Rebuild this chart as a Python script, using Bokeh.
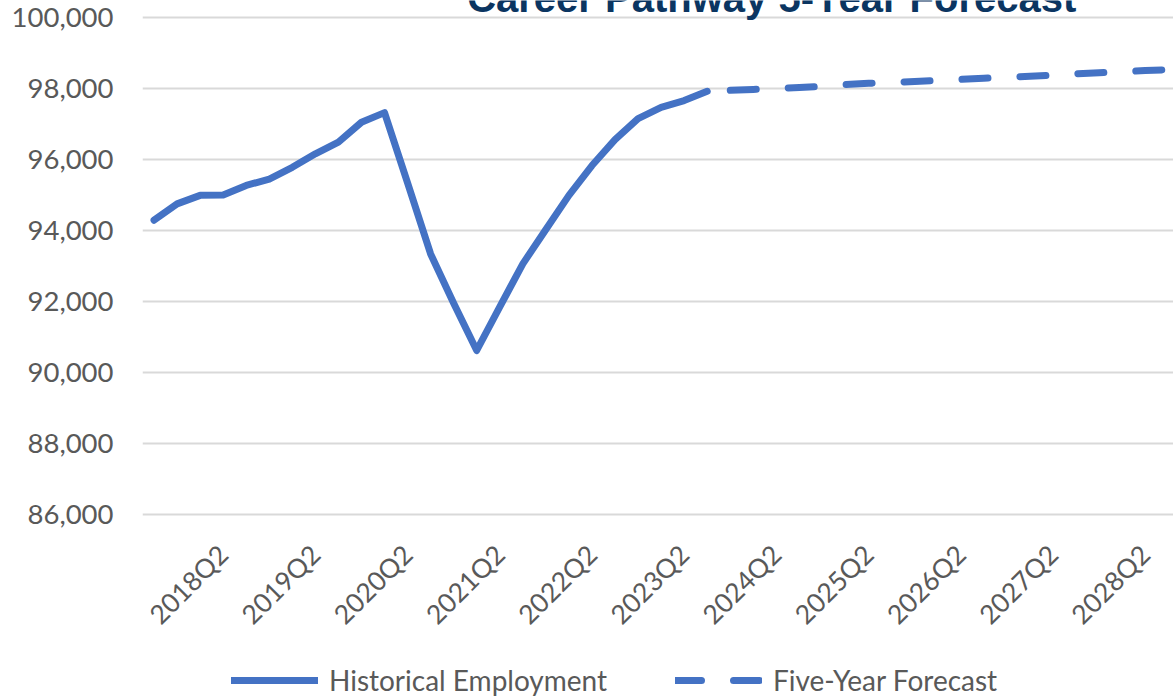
import math
from bokeh.plotting import figure
from bokeh.models import (Range1d, FixedTicker, NumeralTickFormatter, Legend, LegendItem, Label)
from bokeh.embed import file_html
from bokeh.resources import INLINE

# ---------------- data ----------------
quarters = ["2017Q3", "2017Q4",
            "2018Q1", "2018Q2", "2018Q3", "2018Q4",
            "2019Q1", "2019Q2", "2019Q3", "2019Q4",
            "2020Q1", "2020Q2", "2020Q3", "2020Q4",
            "2021Q1", "2021Q2", "2021Q3", "2021Q4",
            "2022Q1", "2022Q2", "2022Q3", "2022Q4",
            "2023Q1", "2023Q2", "2023Q3", "2023Q4",
            "2024Q1", "2024Q2", "2024Q3", "2024Q4",
            "2025Q1", "2025Q2", "2025Q3", "2025Q4",
            "2026Q1", "2026Q2", "2026Q3", "2026Q4",
            "2027Q1", "2027Q2", "2027Q3", "2027Q4",
            "2028Q1", "2028Q2", "2028Q3"]

historical = [94290, 94750, 94990, 95000, 95270, 95450, 95780, 96160, 96490, 97050,
              97320, 95340, 93340, 91950, 90620, 91850, 93060, 94030, 94990, 95830,
              96560, 97150, 97470, 97660, 97920]

forecast = [97950, 97975, 98000, 98030, 98060, 98110, 98145, 98170, 98195, 98225,
            98260, 98290, 98320, 98345, 98375, 98415, 98445, 98475, 98505, 98530]

y_ticks = [86000, 88000, 90000, 92000, 94000, 96000, 98000, 100000]

title_text = "Career Pathway 5-Year Forecast"
hist_label = "Historical Employment"
fc_label = "Five-Year Forecast"

# ---------------- styling ----------------
BLUE = "#4472C4"
GRAY_TXT = "#595959"
GRID = "#D9D9D9"
FONT = "Lato"

hist_x = list(range(len(historical)))
fc_x = list(range(len(historical), len(historical) + len(forecast)))

p = figure(width=1173, height=696, output_backend="svg", toolbar_location=None,
           x_range=Range1d(-0.5, 44.23), y_range=Range1d(80873, 100479),
           min_border_left=142, min_border_right=0, min_border_top=0, min_border_bottom=0)
p.outline_line_color = None
p.background_fill_color = "white"
p.border_fill_color = "white"

r1 = p.line(hist_x, historical, line_color=BLUE, line_width=7,
            line_cap="round", line_join="round")
r2 = p.line(fc_x, forecast, line_color=BLUE, line_width=7,
            line_cap="round", line_join="round", line_dash="26 32")

# y axis
p.yaxis.ticker = FixedTicker(ticks=y_ticks)
p.yaxis.formatter = NumeralTickFormatter(format="0,0")
p.yaxis.axis_line_color = None
p.yaxis.major_tick_line_color = None
p.yaxis.major_tick_out = 0
p.yaxis.major_tick_in = 0
p.yaxis.minor_tick_line_color = None
p.yaxis.major_label_text_font = FONT
p.yaxis.major_label_text_font_size = "27.5px"
p.yaxis.major_label_text_color = GRAY_TXT
p.yaxis.major_label_standoff = 29

# x axis, sitting on the lowest gridline
tick_idx = [i for i, q in enumerate(quarters) if q.endswith("Q2")]
p.xaxis.fixed_location = y_ticks[0]
p.xaxis.ticker = FixedTicker(ticks=tick_idx)
p.xaxis.major_label_overrides = {i: quarters[i] for i in tick_idx}
p.xaxis.major_label_orientation = math.pi / 4
p.xaxis.axis_line_color = None
p.xaxis.major_tick_line_color = None
p.xaxis.minor_tick_line_color = None
p.xaxis.major_label_text_font = FONT
p.xaxis.major_label_text_font_size = "26.5px"
p.xaxis.major_label_text_color = GRAY_TXT
p.xaxis.major_label_standoff = 29

p.xgrid.grid_line_color = None
p.ygrid.grid_line_color = GRID
p.ygrid.grid_line_width = 2

# legends
def make_legend(label, rend, loc):
    return Legend(items=[LegendItem(label=label, renderers=[rend])], location=loc,
                  orientation="horizontal", glyph_width=87, glyph_height=28,
                  label_height=28, label_standoff=11, padding=0, margin=0, spacing=0,
                  border_line_color=None, background_fill_alpha=0,
                  label_text_font=FONT, label_text_font_size="28px",
                  label_text_color=GRAY_TXT)

p.add_layout(make_legend(hist_label, r1, (89, -1)), "center")
p.add_layout(make_legend(fc_label, r2, (533, -1)), "center")

# title (its top is cut off, as in the reference)
title = Label(x=26.8, y=100563, text=title_text,
              text_align="center", text_baseline="alphabetic",
              text_font="Liberation Sans", text_font_style="bold",
              text_font_size="40px", text_color="#0B3561")
p.add_layout(title)

open("out.html", "w").write(file_html(p, INLINE))
